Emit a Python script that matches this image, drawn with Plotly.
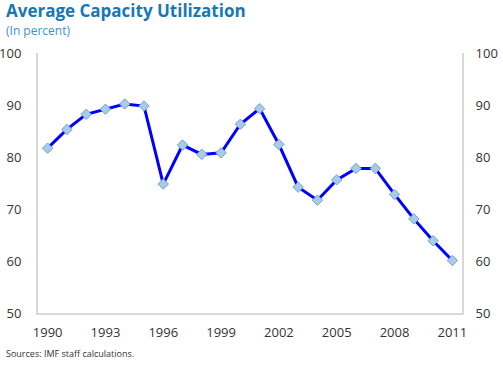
import plotly.graph_objects as go

years = list(range(1990, 2012))
utilization = [81.7, 85.3, 88.2, 89.2, 90.2, 89.8, 74.8, 82.3, 80.5, 80.8, 86.3,
               89.3, 82.4, 74.2, 71.7, 75.6, 77.8, 77.8, 72.8, 68.1, 63.9, 60.1]
x_ticks = [1990, 1993, 1996, 1999, 2002, 2005, 2008, 2011]
y_ticks = [50, 60, 70, 80, 90, 100]

title_color = "#1877b5"
font_family = "Open Sans, Segoe UI, sans-serif"

fig = go.Figure()
fig.add_trace(go.Scatter(
    x=years, y=utilization, mode="lines+markers",
    line=dict(color="#0000ff", width=3),
    marker=dict(symbol="diamond", size=8, color="#a9cbe8",
                line=dict(color="#6fa3d2", width=1)),
    showlegend=False, hoverinfo="x+y"))
fig.add_trace(go.Scatter(
    x=years, y=utilization, yaxis="y2", mode="lines",
    line=dict(width=0), opacity=0, showlegend=False, hoverinfo="skip"))

axis_font = dict(family=font_family, size=13, color="#333333")
fig.update_layout(
    width=503, height=366,
    margin=dict(l=38, r=41, t=53, b=53, autoexpand=False),
    paper_bgcolor="white", plot_bgcolor="white",
    xaxis=dict(range=[1989.5, 2011.5], tickvals=x_ticks, showgrid=False,
               zeroline=False, showline=True, linecolor="#d9d9d9", linewidth=2,
               ticks="", ticklabelstandoff=6, tickfont=axis_font, automargin=False),
    yaxis=dict(range=[50, 100], tickvals=y_ticks, showgrid=False, zeroline=False,
               showline=True, linecolor="#d9d9d9", linewidth=2, ticks="",
               ticklabelstandoff=12, tickfont=axis_font, automargin=False),
    yaxis2=dict(range=[50, 100], tickvals=y_ticks, overlaying="y", side="right",
                showgrid=False, zeroline=False, showline=True, linecolor="#d9d9d9",
                linewidth=2, ticks="", ticklabelstandoff=9, tickfont=axis_font,
                automargin=False),
    annotations=[
        dict(text="<b>Average Capacity Utilization</b>", xref="paper", yref="paper",
             x=-0.08, y=1.162, xanchor="left", yanchor="middle", showarrow=False,
             font=dict(family=font_family, size=17, color=title_color)),
        dict(text="(In percent)", xref="paper", yref="paper",
             x=-0.08, y=1.088, xanchor="left", yanchor="middle", showarrow=False,
             font=dict(family=font_family, size=12, color="#3a93c8")),
        dict(text="Sources: IMF staff calculations.", xref="paper", yref="paper",
             x=-0.08, y=-0.154, xanchor="left", yanchor="middle", showarrow=False,
             font=dict(family=font_family, size=9, color="#333333")),
    ],
)

fig.write_html("out.html", config={"displayModeBar": False},
               post_script="document.body.style.margin='0';document.body.style.overflow='hidden';")
